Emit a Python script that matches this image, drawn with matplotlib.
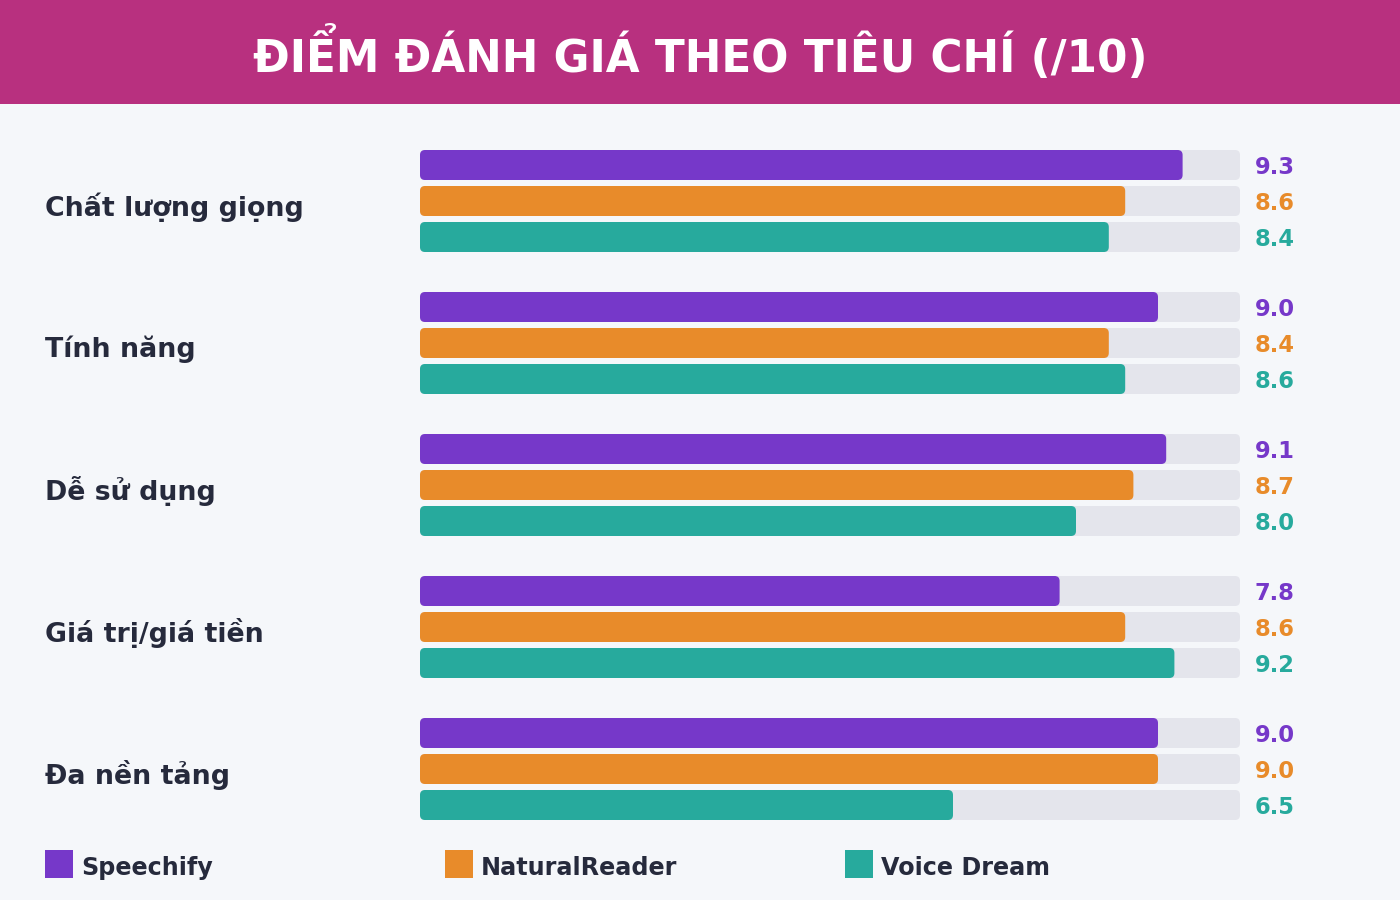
import matplotlib
matplotlib.use("Agg")
import matplotlib.pyplot as plt
from matplotlib.patches import FancyBboxPatch, Rectangle

categories = ["Chất lượng giọng", "Tính năng", "Dễ sử dụng", "Giá trị/giá tiền", "Đa nền tảng"]
series_names = ["Speechify", "NaturalReader", "Voice Dream"]
speechify = [9.3, 9.0, 9.1, 7.8, 9.0]
naturalreader = [8.6, 8.4, 8.7, 8.6, 9.0]
voicedream = [8.4, 8.6, 8.0, 9.2, 6.5]
max_score = 10
title = "ĐIỂM ĐÁNH GIÁ THEO TIÊU CHÍ (/10)"

series = [speechify, naturalreader, voicedream]
colors = ["#7638c9", "#e88b2a", "#27aa9d"]
track_color = "#e4e5ec"
text_color = "#262a3c"
bg = "#f5f7fa"
header = "#b8307f"

plt.rcParams['font.family'] = ['DejaVu Sans']
W, H = 1400, 900
fig = plt.figure(figsize=(14, 9), dpi=100)
fig.patch.set_facecolor(bg)

# header band
fig.patches.append(Rectangle((0, 1 - 104 / H), 1, 104 / H, transform=fig.transFigure,
                             facecolor=header, edgecolor="none", zorder=0))
fig.text(0.5, 1 - 53 / H, title, ha="center", va="center", color="white",
         fontsize=31.5, fontweight="bold")

# bar axes: x in score units, y in pixel-like units
left_px, right_px, top_px, bot_px = 420, 1240, 150, 820
ax = fig.add_axes([left_px / W, 1 - bot_px / H, (right_px - left_px) / W, (bot_px - top_px) / H])
ax.set_xlim(0, max_score)
ax.set_ylim(bot_px, top_px)
ax.axis("off")

px_per_x = (right_px - left_px) / max_score
group_step = 142
bar_step = 36
bar_h = 30
first_center = 165
r_px = 5
rx = r_px / px_per_x
aspect = r_px / rx

for i, cat in enumerate(categories):
    gc = first_center + group_step * i + bar_step
    ax.text((45 - left_px) / px_per_x, gc + 6, cat, ha="left", va="center",
            fontsize=19.3, fontweight="bold", color=text_color, clip_on=False)
    for j, vals in enumerate(series):
        yc = first_center + group_step * i + bar_step * j
        y0 = yc - bar_h / 2
        ax.add_patch(FancyBboxPatch((0, y0), max_score, bar_h,
                                    boxstyle=f"round,pad=0,rounding_size={rx}",
                                    mutation_aspect=aspect, facecolor=track_color,
                                    edgecolor="none"))
        ax.add_patch(FancyBboxPatch((0, y0), vals[i], bar_h,
                                    boxstyle=f"round,pad=0,rounding_size={rx}",
                                    mutation_aspect=aspect, facecolor=colors[j],
                                    edgecolor="none"))
        ax.text((1255 - left_px) / px_per_x, yc + 2, f"{vals[i]:.1f}", ha="left", va="center",
                fontsize=16.3, fontweight="bold", color=colors[j], clip_on=False)

# legend
for j, name in enumerate(series_names):
    x0 = 45 + 400 * j
    fig.patches.append(Rectangle((x0 / W, 1 - 878 / H), 28 / W, 28 / H, transform=fig.transFigure,
                                 facecolor=colors[j], edgecolor="none"))
    fig.text((x0 + 36) / W, 1 - 868 / H, name, ha="left", va="center",
             fontsize=17.2, fontweight="bold", color=text_color)

fig.savefig("out.png", dpi=100, facecolor=bg)
